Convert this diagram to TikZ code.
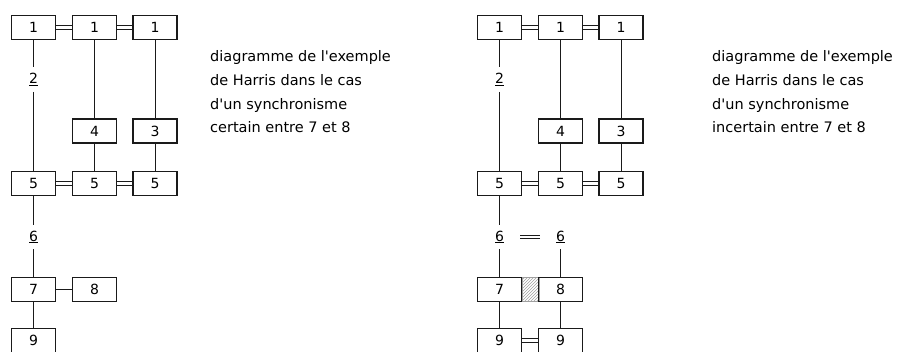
\documentclass[tikz,border=0pt]{standalone}
\usepackage{fontspec}
\setmainfont{DejaVu Sans}[Ligatures=TeXOff]
\usetikzlibrary{patterns}
\definecolor{trait}{HTML}{1A1A1A}
\definecolor{hachure}{HTML}{A0A0A0}
\tikzset{
  etape/.style={rectangle, draw=trait, line width=1.1pt, minimum width=44pt, minimum height=24pt, inner sep=0pt, font=\fontsize{14}{14}\selectfont},
  lbl/.style ={inner sep=0pt, minimum height=24.5pt, font=\fontsize{14}{14}\selectfont},
  lien/.style ={draw=trait, line width=1pt},
  egal/.style ={draw=trait, double, double distance=2.8pt, line width=0.9pt},
  zone/.style ={rectangle, draw=hachure, line width=0.6pt, pattern=north east lines, pattern color=hachure, minimum width=17pt, minimum height=24pt, inner sep=0pt},
  texte/.style={anchor=base west, align=left, inner sep=0pt, font=\fontsize{14.5}{23.7}\selectfont},
}
\begin{document}
\begin{tikzpicture}[x=1pt,y=-1pt]
\useasboundingbox (0,0) rectangle (898,352);
% certain synchronism
\node[etape] (a1) at (33.5,27.5) {1};
\node[etape] (b1) at (94.5,27.5) {1};
\node[etape] (c1) at (155,27.5) {1};
\node[lbl] (a2) at (33.5,79.5) {\underline{2}};
\node[etape] (b4) at (94.5,131) {4};
\node[etape] (c3) at (155,131) {3};
\node[etape] (a5) at (33.5,183.5) {5};
\node[etape] (b5) at (94.5,183.5) {5};
\node[etape] (c5) at (155,183.5) {5};
\node[lbl] (a6) at (33.5,237) {\underline{6}};
\node[etape] (a7) at (33.5,289.5) {7};
\node[etape] (b8) at (94.5,289.5) {8};
\node[etape] (a9) at (33.5,340.5) {9};
\draw[egal] (a1) -- (b1);
\draw[egal] (b1) -- (c1);
\draw[lien] (a1) -- (a2);
\draw[lien] (a2) -- (a5);
\draw[lien] (b1) -- (b4);
\draw[lien] (c1) -- (c3);
\draw[lien] (b4) -- (b5);
\draw[lien] (c3) -- (c5);
\draw[egal] (a5) -- (b5);
\draw[egal] (b5) -- (c5);
\draw[lien] (a5) -- (a6);
\draw[lien] (a6) -- (a7);
\draw[lien] (a7) -- (b8);
\draw[lien] (a7) -- (a9);
\node[texte] (t1) at (210,133) {diagramme de l'exemple\\de Harris dans le cas\\d'un synchronisme\\certain entre 7 et 8};

% uncertain synchronism
\node[etape] (d1) at (499.5,27.5) {1};
\node[etape] (e1) at (560.5,27.5) {1};
\node[etape] (f1) at (621,27.5) {1};
\node[lbl] (d2) at (499.5,79.5) {\underline{2}};
\node[etape] (e4) at (560.5,131) {4};
\node[etape] (f3) at (621,131) {3};
\node[etape] (d5) at (499.5,183.5) {5};
\node[etape] (e5) at (560.5,183.5) {5};
\node[etape] (f5) at (621,183.5) {5};
\node[lbl] (d6) at (499.5,237) {\underline{6}};
\node[lbl] (e6) at (560.5,237) {\underline{6}};
\node[etape] (d7) at (499.5,289.5) {7};
\node[zone] (h78) at (530.5,289.5) {};
\node[etape] (e8) at (560.5,289.5) {8};
\node[etape] (d9) at (499.5,340.5) {9};
\node[etape] (e9) at (560.5,340.5) {9};
\draw[egal] (d1) -- (e1);
\draw[egal] (e1) -- (f1);
\draw[lien] (d1) -- (d2);
\draw[lien] (d2) -- (d5);
\draw[lien] (e1) -- (e4);
\draw[lien] (f1) -- (f3);
\draw[lien] (e4) -- (e5);
\draw[lien] (f3) -- (f5);
\draw[egal] (d5) -- (e5);
\draw[egal] (e5) -- (f5);
\draw[lien] (d5) -- (d6);
\draw[lien] (d6) -- (d7);
\draw[lien] (e6) -- (e8);
\draw[egal, shorten <=16pt, shorten >=16pt] (d6) -- (e6);
\draw[lien] (d7) -- (d9);
\draw[lien] (e8) -- (e9);
\draw[egal] (d9) -- (e9);
\node[texte] (t2) at (712,133) {diagramme de l'exemple\\de Harris dans le cas\\d'un synchronisme\\incertain entre 7 et 8};

\end{tikzpicture}
\end{document}
